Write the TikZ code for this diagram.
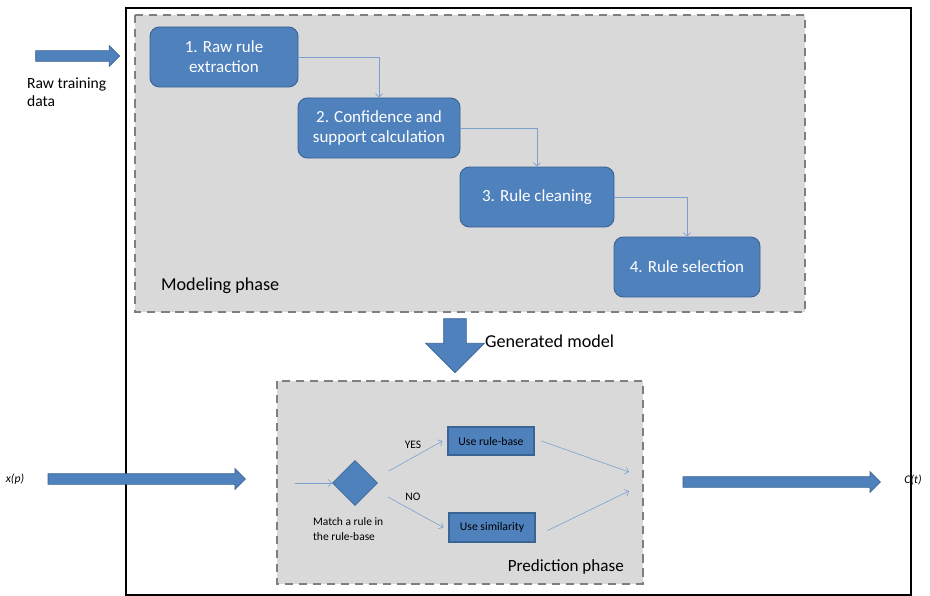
\documentclass[tikz,border=0pt]{standalone}
\usepackage{fontspec}
\setmainfont{Carlito}
\usetikzlibrary{shapes.geometric,shapes.arrows,arrows.meta,calc}

\definecolor{boxblue}{HTML}{4F81BD}
\definecolor{boxedge}{HTML}{3A6494}
\definecolor{phasegray}{HTML}{D9D9D9}
\definecolor{dashgray}{HTML}{7F7F7F}

\tikzset{
  phase/.style={fill=phasegray, draw=dashgray, line width=1.6pt, dash pattern=on 7pt off 5pt},
  stepbox/.style={rounded corners=8pt, fill=boxblue, draw=boxedge, line width=0.8pt,
    text=white, align=center, font=\fontsize{14.5}{17}\selectfont},
  smallbox/.style={fill=boxblue, draw=boxedge, line width=1pt,
    font=\fontsize{10}{12}\selectfont},
  flow/.style={draw=boxblue!75, line width=0.5pt, -{Straight Barb[length=3pt,width=6pt]}},
  bigarrow/.style={single arrow, fill=boxblue, draw=boxedge, line width=0.6pt,
    single arrow head extend=1.5mm, minimum width=6mm, inner sep=1.5mm},
  lbl/.style={align=left, anchor=west, font=\fontsize{13.3}{15.5}\selectfont},
  small/.style={font=\fontsize{9.8}{13}\selectfont},
  title/.style={font=\fontsize{15.5}{18}\selectfont}
}

\begin{document}
\begin{tikzpicture}[x=0.3mm, y=-0.3mm]
        \useasboundingbox (0,0) rectangle (930,596);

        % Outer frame
        \draw[line width=1.2pt] (126,8) rectangle (911,595);

        % Phase areas
        \draw[phase] (135,15) rectangle (805,312);
        \draw[phase] (277,381) rectangle (643,584);

        % Modeling steps
        \node[stepbox, minimum width=44.4mm, minimum height=18mm] (s1) at (224,57) {1. Raw rule\\extraction};
        \node[stepbox, minimum width=48.6mm, minimum height=18mm] (s2) at (379,128) {2. Confidence and\\support calculation};
        \node[stepbox, minimum width=46.2mm, minimum height=18mm] (s3) at (537,197) {3. Rule cleaning};
        \node[stepbox, minimum width=43.8mm, minimum height=18mm] (s4) at (687,267) {4. Rule selection};

        \draw[flow] (s1.east) -| (s2.north);
        \draw[flow] (s2.east) -| (s3.north);
        \draw[flow] (s3.east) -| (s4.north);

        \node[title, anchor=west] (mp) at (157,286) {Modeling phase};

        % Input of the modeling phase
        \node[bigarrow, minimum height=25.2mm] (rawin) at (75,56) {};
        \node[lbl] (raw) at (23,92) {Raw training\\data};

        % Generated model
        \node[bigarrow, shape border rotate=270, minimum width=17.4mm, inner sep=3.3mm,
              single arrow head extend=5.4mm, minimum height=16.2mm] (gen) at (455,340) {};
        \node[title, anchor=west] (genl) at (481,341) {Generated model};

        % Prediction phase
        \coordinate (din) at (295,483);
        \coordinate (join) at (629,472);
        \node[diamond, fill=boxblue, draw=boxedge, line width=0.6pt,
              minimum width=13.5mm, minimum height=13.5mm, inner sep=0pt] (match) at (355,483) {};
        \node[small, align=left, anchor=north west] (ml) at (309,513) {Match a rule in\\the rule-base};
        \node[smallbox, minimum width=25.8mm, minimum height=8.4mm] (rb) at (491,441) {Use rule-base};
        \node[smallbox, minimum width=25.8mm, minimum height=8.7mm] (sim) at (492,527.5) {Use similarity};

        \draw[flow] (din) -- (match.west);
        \draw[flow] ($(match.east)+(11,-12)$) -- ($(rb.west)+(-5,0)$) node[small, pos=0.45, above=4pt] {YES};
        \draw[flow] ($(match.east)+(10,14)$) -- ($(sim.west)+(-5,0)$) node[small, pos=0.45, above=5pt] {NO};
        \draw[flow] ($(rb.east)+(7,0)$) -- (join);
        \draw[flow] ($(sim.east)+(12,3)$) -- ($(join)+(0,19)$);

        \node[anchor=south east, font=\fontsize{14.6}{17}\selectfont] (pp) at (628,578) {Prediction phase};

        % Input and output of the prediction
        \node[bigarrow, minimum height=59.2mm] (xin) at (144,479) {};
        \node[small, font=\fontsize{10}{12}\selectfont\itshape] (xp) at (15,479) {x(p)};
        \node[bigarrow, minimum height=59.2mm] (cout) at (779,482) {};
        \node[small, font=\fontsize{10}{12}\selectfont\itshape] (ct) at (913,480) {C(t)};
\end{tikzpicture}
\end{document}
